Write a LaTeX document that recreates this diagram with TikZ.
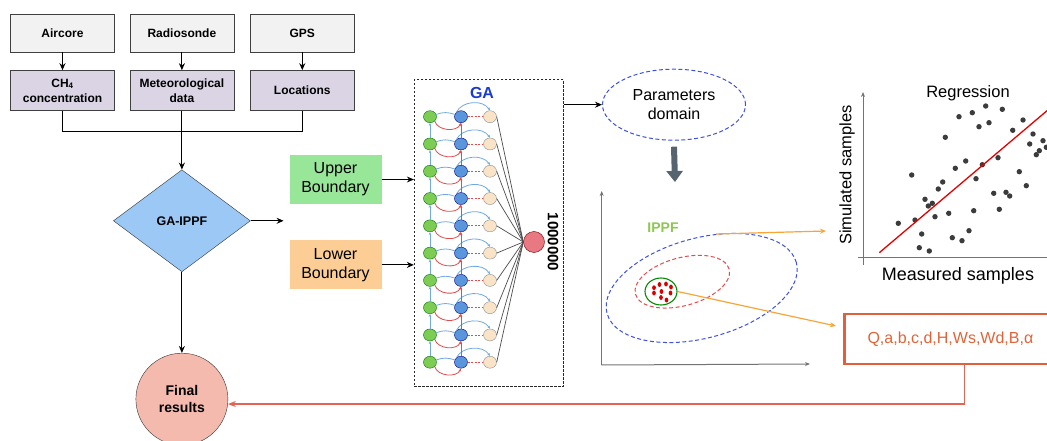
\documentclass[tikz,border=0pt]{standalone}
\usepackage{fontspec}
\setmainfont{Liberation Sans}
\usetikzlibrary{shapes.geometric,arrows.meta,positioning}

\definecolor{srcgray}{RGB}{242,242,242}
\definecolor{datalilac}{RGB}{218,212,229}
\definecolor{decblue}{RGB}{155,200,245}
\definecolor{resred}{RGB}{245,186,174}
\definecolor{upgreen}{RGB}{152,230,152}
\definecolor{lowor}{RGB}{252,206,150}
\definecolor{gablue}{RGB}{25,60,205}
\definecolor{ippfgreen}{RGB}{140,200,80}
\definecolor{genegreen}{RGB}{125,205,85}
\definecolor{chromblue}{RGB}{90,150,220}
\definecolor{childtan}{RGB}{250,228,200}
\definecolor{hubred}{RGB}{232,120,130}
\definecolor{linkblue}{RGB}{110,170,225}
\definecolor{linkred}{RGB}{225,75,75}
\definecolor{domblue}{RGB}{60,80,225}
\definecolor{orline}{RGB}{247,165,55}
\definecolor{qred}{RGB}{225,95,60}
\definecolor{fbred}{RGB}{225,100,85}
\definecolor{dotgray}{RGB}{60,60,60}
\definecolor{axgray}{RGB}{115,115,115}
\definecolor{pushgray}{RGB}{85,100,110}

\tikzstyle{src}=[rectangle,draw=black!75,fill=srcgray,minimum width=104pt,
  minimum height=38pt,inner sep=2pt,align=center,
  font=\fontsize{12}{15}\selectfont\bfseries]
\tikzstyle{data}=[src,fill=datalilac,minimum height=40pt]
\tikzstyle{decision}=[diamond,draw=black!80,fill=decblue,minimum width=137pt,
  minimum height=102pt,inner sep=0pt,font=\fontsize{12.5}{15}\selectfont\bfseries]
\tikzstyle{result}=[circle,draw=black!80,fill=resred,minimum size=92pt,
  align=center,font=\fontsize{14}{17}\selectfont\bfseries]
\tikzstyle{bound}=[rectangle,minimum width=92pt,minimum height=49pt,
  align=center,font=\fontsize{16}{19}\selectfont]
\tikzstyle{gabox}=[rectangle,draw=black!85,line width=0.9pt,
  dash pattern=on 2.5pt off 1.5pt,minimum width=149pt,minimum height=307pt]
\tikzstyle{gene}=[ellipse,draw=green!45!black,fill=genegreen,minimum width=13pt,
  minimum height=12pt,inner sep=0pt]
\tikzstyle{chrom}=[gene,draw=blue!55!black,fill=chromblue]
\tikzstyle{child}=[gene,draw=black!45,fill=childtan]
\tikzstyle{region}=[ellipse,draw,dash pattern=on 4pt off 2.5pt,line width=1pt,inner sep=0pt]
\tikzstyle{arrow}=[-{Stealth[length=7pt,width=6pt]},line width=1.1pt,color=black]
\tikzstyle{linkb}=[linkblue,line width=0.8pt]
\tikzstyle{linkr}=[linkred,line width=0.8pt]
\tikzstyle{tinytip}=[-{Stealth[length=3pt,width=2.5pt]}]
\tikzstyle{orarrow}=[-{Stealth[length=6pt,width=5pt]},orline,line width=1.2pt]
\tikzstyle{axis}=[-{Stealth[length=5pt,width=4pt]},axgray,line width=1pt]

\begin{document}
\begin{tikzpicture}[x=1pt,y=-1pt]
  \useasboundingbox (0,0) rectangle (1047,441);
  \clip (0,0) rectangle (1047,441);

  % Input sources
  \node[src] (aircore) at (62.5,33) {Aircore};
  \node[src, right=15pt of aircore] (radio) {Radiosonde};
  \node[src, right=16pt of radio]   (gps)   {GPS};
  \node[data, below=18pt of aircore] (ch4) {CH\textsubscript{4}\\concentration};
  \node[data, below=18pt of radio]   (met) {Meteorological\\data};
  \node[data, below=18pt of gps]     (loc) {Locations};

  % Model and result
  \node[decision, below=59pt of met] (gaippf) {GA-IPPF};
  \node[result, below=81pt of gaippf] (final) {Final\\results};
  \coordinate[right=33pt of gaippf.east] (gaout);
  \coordinate[below=21pt of met.south] (join);

  % Bounds
  \node[bound, fill=upgreen] (upper) at (335.5,179.5) {Upper\\Boundary};
  \node[bound, fill=lowor, below=36pt of upper] (lower) {Lower\\Boundary};

  % Fleches
  \draw[arrow] (aircore) -- (ch4);
  \draw[arrow] (radio) -- (met);
  \draw[arrow] (gps) -- (loc);
  \draw[line width=1.1pt] (ch4.south) |- (join) -| (loc.south);
  \draw[arrow] (met.south) -- (gaippf.north);
  \draw[arrow] (gaippf.east) -- (gaout);
  \draw[arrow] (gaippf.south) -- (final.north);

  % Genetic algorithm
  \node[gabox] (gabox) at (488.8,233.3) {};
  \node[font=\fontsize{16}{18}\selectfont\bfseries, text=gablue] (galabel) at (482,93) {GA};
  \node[circle, draw=red!45!black, fill=hubred, minimum size=21pt, inner sep=0pt] (hub) at (534,242) {};
  \node[rotate=-90, font=\fontsize{15}{17}\selectfont\bfseries] (hublabel) at (553,242) {1000000};
  \foreach \i in {0,...,9}{
    \pgfmathsetmacro\ry{116.7+27.28*\i}
    \node[gene]  (g\i) at (430,\ry) {};
    \node[chrom] (b\i) at (461,\ry) {};
    \node[child] (t\i) at (490,\ry) {};
  }
  \foreach \i in {0,...,9}{
    \draw[linkb] (g\i) to[bend left=20] (b\i);
    \draw[linkb, tinytip] (b\i.north west) to[bend left=60] (t\i.north);
    \draw[linkr, tinytip] (g\i.south east) to[bend right=70] (b\i.south);
    \draw[linkr, dash pattern=on 2pt off 1.5pt] (b\i) -- (t\i);
    \draw[black!70, line width=0.7pt] (t\i.east) -- (hub.west);
  }
  \foreach \i [evaluate=\i as \j using int(\i-1)] in {1,...,9}{
    \draw[linkb, tinytip] (g\i) -- (g\j);
    \draw[linkr, tinytip] (b\i) -- (b\j);
  }
  \draw[arrow] (upper.east) -- (upper.east -| gabox.west);
  \draw[arrow] (lower.east) -- (lower.east -| gabox.west);

  % Parameter space
  \node[region, draw=domblue, minimum width=143pt, minimum height=71pt, align=center,
    font=\fontsize{16}{19}\selectfont] (params) at (674,104.7) {Parameters\\domain};
  \draw[arrow] (params.west -| gabox.east) -- (params.west);
  \coordinate (pushend) at (675,182);
  \draw[-{Triangle[length=11pt,width=16pt]}, line width=6pt, pushgray]
    ([yshift=-6pt]params.south) -- (pushend);

  \coordinate (porigin) at (601.7,365);
  \coordinate (pytop) at (601.7,191);
  \coordinate (pxend) at (810,364);
  \draw[axis] (porigin) -- (pytop);
  \draw[axis] (porigin) -- (pxend);
  \node[font=\fontsize{14}{16}\selectfont\bfseries, text=ippfgreen] (ippf) at (663,228) {IPPF};
  \node[region, draw=domblue, minimum width=196pt, minimum height=100pt, rotate=15] (outer) at (701.7,288) {};
  \node[region, draw=linkred, minimum width=97pt, minimum height=48pt, rotate=15] (inner) at (682.3,281.7) {};
  \node[ellipse, draw=green!55!black, line width=1.1pt, minimum width=32pt, minimum height=27pt, inner sep=0pt] (best) at (661,291.5) {};
  \foreach \px/\py in {654/287.7,654/293,659.5/284.5,666/284,671/287,661.5/291.5,670.5/293,661/297.5,666.5/300}
    \fill[red!85!black] (\px,\py) ellipse (1.9pt and 2.4pt);

  % Regression check
  \coordinate (rorigin) at (863,265);
  \coordinate (rytop) at (863,92);
  \coordinate (rxstart) at (858,257);
  \coordinate (rxend) at (1050,257);
  \draw[axis] (rorigin) -- (rytop);
  \draw[axgray, line width=1pt] (rxstart) -- (rxend);
  \foreach \px/\py in {898.3/223.3,911.7/175,915/220,919.3/247.7,921.7/234,925/199.3,
    929.3/251,928.3/206,932.3/203.3,935/216.7,938.3/189,942.7/182,945.3/137.3,
    948.7/213.3,952.3/237.7,955.3/168.3,959/116.7,962/240.7,965.7/161,969/230.7,
    972.3/112.7,973.7/210.7,976/178.7,979/126.7,982.3/164.7,985.7/106,989/122.7,
    993.7/193.3,998/157.7,999.3/209.3,1002.3/109.3,1006/192.3,1009.7/196,
    1012.7/130.3,1019.3/171.7,1023/120,1026.3/185.7,1029.7/144,1033/134,
    1036.3/154.7,1039.3/150.7,1043/140.7,1046.3/147.3}
    \fill[dotgray] (\px,\py) circle (2.7pt);
  \coordinate (fitlo) at (879.3,252.7);
  \coordinate (fithi) at (1050,108.2);
  \draw[red!90!black, line width=1.3pt] (fitlo) -- (fithi);
  \node[font=\fontsize{16.5}{18}\selectfont] (regtitle) at (968,93) {Regression};
  \node[rotate=90, font=\fontsize{16.5}{18}\selectfont] (ylabel) at (847,175) {Simulated samples};
  \node[font=\fontsize{18}{20}\selectfont] (xlabel) at (958,276) {Measured samples};

  % Parameter set
  \node[rectangle, draw=qred, line width=2.2pt, minimum width=212pt, minimum height=50pt,
    anchor=west, text=qred!90!orange, font=\fontsize{16}{18}\selectfont] (qbox) at (843.3,339)
    {Q,a,b,c,d,H,Ws,Wd,B,α};
  \coordinate (toreg) at (826,231);
  \coordinate (toq) at (836,326);
  \draw[orarrow] (outer.60) -- (toreg);
  \draw[orarrow] (best.east) -- (toq);
  \draw[-{Stealth[length=8pt,width=6pt]}, fbred, line width=1.3pt]
    ([xshift=14pt]qbox.south) |- (final.-6);

\end{tikzpicture}
\end{document}
